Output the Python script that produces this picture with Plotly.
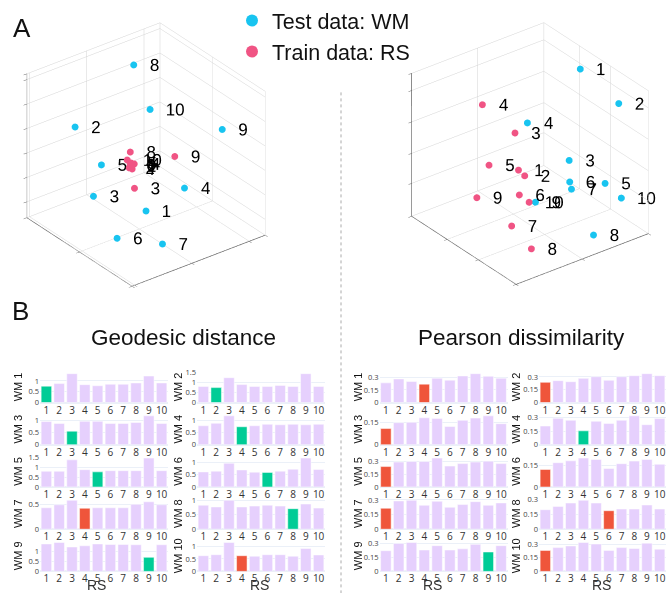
import plotly.graph_objects as go

W, H = 666, 598


def px(x):
    return x / W


def py(y):
    return 1 - y / H


# ---------------- data ----------------
point_labels = [str(i) for i in range(1, 11)]

# panel A, left embedding (normalized 3D coordinates)
left_test_x = [0.641, 0.819, 0.764, 0.322, 0.720, 0.860, 0.663, 0.314, 0.162, 0.376]
left_test_y = [0.678, 0.229, 0.334, 0.640, 0.354, 0.680, 0.862, 0.147, 0.796, 0.381]
left_test_z = [0.243, 0.676, 0.225, 0.271, 0.437, 0.132, 0.109, 0.889, 0.696, 0.713]
left_train_x = [0.652, 0.676, 0.629, 0.624, 0.631, 0.650, 0.670, 0.556, 0.338, 0.628]
left_train_y = [0.552, 0.563, 0.553, 0.544, 0.525, 0.539, 0.583, 0.421, 0.568, 0.483]
left_train_z = [0.500, 0.500, 0.337, 0.500, 0.500, 0.500, 0.500, 0.500, 0.462, 0.500]

# panel A, right embedding
right_test_x = [0.083, 0.110, 0.300, 0.468, 0.083, 0.295, 0.311, 0.345, 0.581, 0.092]
right_test_y = [0.453, 0.855, 0.621, 0.434, 0.690, 0.620, 0.657, 0.911, 0.654, 0.857]
right_test_z = [0.921, 0.881, 0.439, 0.672, 0.234, 0.286, 0.259, 0.071, 0.262, 0.214]
right_train_x = [0.586, 0.550, 0.580, 0.679, 0.710, 0.654, 0.798, 0.776, 0.777, 0.621]
right_train_y = [0.498, 0.512, 0.457, 0.270, 0.373, 0.592, 0.701, 0.862, 0.341, 0.644]
right_train_z = [0.414, 0.368, 0.652, 0.796, 0.433, 0.309, 0.195, 0.104, 0.214, 0.271]

# panel B
rs_cats = list(range(1, 11))
rs_ticktext = [str(i) for i in rs_cats]
wm_names = ["WM %d" % i for i in range(1, 11)]

geo = [
    [0.76, 0.88, 1.34, 0.83, 0.78, 0.85, 0.85, 0.91, 1.23, 0.91],
    [0.80, 0.74, 1.23, 0.89, 0.80, 0.80, 0.85, 0.80, 1.43, 0.80],
    [0.94, 0.86, 0.55, 0.95, 0.95, 0.86, 0.86, 0.90, 1.17, 0.86],
    [0.77, 0.87, 1.17, 0.73, 0.77, 0.83, 0.81, 0.83, 0.81, 0.83],
    [0.80, 0.80, 1.38, 0.88, 0.77, 0.83, 0.83, 0.83, 1.47, 0.83],
    [0.61, 0.64, 0.96, 0.69, 0.60, 0.59, 0.64, 0.72, 1.17, 0.71],
    [0.43, 0.49, 0.58, 0.42, 0.43, 0.43, 0.43, 0.50, 0.55, 0.49],
    [0.83, 0.77, 1.00, 0.77, 0.80, 0.83, 0.80, 0.71, 0.87, 0.73],
    [1.35, 1.42, 1.20, 1.26, 1.35, 1.32, 1.32, 1.31, 0.69, 1.31],
    [0.63, 0.67, 1.16, 0.63, 0.61, 0.67, 0.67, 0.61, 0.92, 0.66],
]
geo_pick = [1, 2, 3, 4, 5, 6, 4, 8, 9, 4]

pear = [
    [0.233, 0.280, 0.249, 0.218, 0.288, 0.265, 0.315, 0.342, 0.311, 0.288],
    [0.237, 0.257, 0.245, 0.284, 0.303, 0.261, 0.303, 0.315, 0.339, 0.315],
    [0.110, 0.150, 0.152, 0.183, 0.179, 0.124, 0.166, 0.181, 0.196, 0.143],
    [0.204, 0.289, 0.267, 0.152, 0.256, 0.233, 0.267, 0.315, 0.219, 0.285],
    [0.240, 0.293, 0.300, 0.300, 0.340, 0.246, 0.275, 0.293, 0.304, 0.275],
    [0.121, 0.168, 0.181, 0.200, 0.190, 0.128, 0.161, 0.179, 0.190, 0.157],
    [0.215, 0.290, 0.297, 0.246, 0.287, 0.225, 0.253, 0.283, 0.246, 0.270],
    [0.198, 0.232, 0.266, 0.294, 0.266, 0.188, 0.205, 0.205, 0.246, 0.205],
    [0.222, 0.300, 0.310, 0.229, 0.276, 0.229, 0.242, 0.290, 0.208, 0.276],
    [0.230, 0.261, 0.279, 0.317, 0.300, 0.230, 0.261, 0.251, 0.310, 0.244],
]
pear_pick = [4, 1, 1, 4, 1, 1, 1, 6, 9, 1]

# ---------------- style ----------------
CYAN = "rgb(24,196,240)"
PINK = "rgb(240,84,132)"
PURPLE = "#e6d0fd"
GREEN = "#00cc96"
RED = "#ef553b"
SANS = "Liberation Sans, Arial, sans-serif"

fig = go.Figure()


def add_embedding(scene, tx, ty, tz, rx, ry, rz, legend):
    fig.add_trace(go.Scatter3d(
        x=tx, y=ty, z=tz, mode="markers+text", text=point_labels,
        textposition="middle right", name="Test data: WM", scene=scene,
        marker=dict(size=4, color=CYAN, line=dict(width=0)),
        textfont=dict(size=17, color="black", family=SANS),
        showlegend=legend, hoverinfo="skip"))
    fig.add_trace(go.Scatter3d(
        x=rx, y=ry, z=rz, mode="markers+text", text=point_labels,
        textposition="middle right", name="Train data: RS", scene=scene,
        marker=dict(size=4, color=PINK, line=dict(width=0)),
        textfont=dict(size=17, color="black", family=SANS),
        showlegend=legend, hoverinfo="skip"))


add_embedding("scene", left_test_x, left_test_y, left_test_z,
              left_train_x, left_train_y, left_train_z, True)
add_embedding("scene2", right_test_x, right_test_y, right_test_z,
              right_train_x, right_train_y, right_train_z, False)


def ax3(tv):
    return dict(range=[0, 1], autorange=False, tickvals=tv, showticklabels=False,
                title=dict(text=""), showgrid=True, gridcolor="#d4d4d4", gridwidth=1,
                showbackground=False, zeroline=False, showline=True,
                linecolor="#666", linewidth=1.5, ticks="outside", ticklen=4,
                tickcolor="#666", showspikes=False)


K = 1.8
camera = dict(eye=dict(x=K * 0.527, y=K * 0.687, z=K * 0.5),
              up=dict(x=0, y=0, z=1), center=dict(x=0, y=0, z=0),
              projection=dict(type="orthographic"))

S = 1.13
scene_common = dict(aspectmode="manual", aspectratio=dict(x=S * 1.0, y=S * 1.03, z=S * 0.99),
                    camera=camera, bgcolor="white", dragmode=False)

layout = dict(
    width=W, height=H, margin=dict(l=0, r=0, t=0, b=0),
    template="plotly_white", paper_bgcolor="white", plot_bgcolor="white",
    font=dict(family=SANS, color="#222"),
    showlegend=True,
    legend=dict(x=px(232), y=1 + 6 / H, xanchor="left", yanchor="top",
                font=dict(size=21.5, family=SANS, color="#111"),
                bgcolor="rgba(0,0,0,0)", itemsizing="constant"),
    scene=dict(domain=dict(x=[px(12), px(280)], y=[py(303), 1]),
               xaxis=ax3([0, 0.12, 0.55, 0.98, 1]), yaxis=ax3([0, 0.5, 1]),
               zaxis=ax3([0, 0.11, 0.28, 0.45, 0.62, 0.79, 0.96, 1]), **scene_common),
    scene2=dict(domain=dict(x=[px(394), 1], y=[py(301), 1]),
                xaxis=ax3([0, 0.5, 1]), yaxis=ax3([0, 0.34, 0.64, 1]),
                zaxis=ax3([0, 0.23, 0.44, 0.66, 0.88, 1]), **scene_common),
    bargap=0.18,
)

col_x = [(40, 168), (197, 325), (379.5, 507.5), (539, 666)]
row_y = [(373, 404), (416, 447), (459, 490), (502, 533), (545, 576)]
wm_label_x = [18, 178, 358, 516]
rs_label_x = [96, 259, 433, 601]

annotations = [
    dict(text="A", x=px(11), y=py(22), xanchor="left", yanchor="middle",
         font=dict(size=26, family=SANS, color="#111")),
    dict(text="B", x=px(10), y=py(311), xanchor="left", yanchor="middle",
         font=dict(size=26, family=SANS, color="#111")),
    dict(text="Geodesic distance", x=px(183), y=py(338), xanchor="center", yanchor="middle",
         font=dict(size=22.5, family=SANS, color="#111")),
    dict(text="Pearson dissimilarity", x=px(521), y=py(338), xanchor="center", yanchor="middle",
         font=dict(size=22.5, family=SANS, color="#111")),
]

n = 0
for g, (vals, picks, dt) in enumerate([(geo, geo_pick, 0.5), (pear, pear_pick, 0.15)]):
    for i in range(10):
        n += 1
        row, col = i // 2, i % 2
        cx = col_x[g * 2 + col]
        ry = row_y[row]
        colors = [PURPLE] * 10
        colors[picks[i] - 1] = GREEN if picks[i] == i + 1 else RED
        sfx = "" if n == 1 else str(n)
        fig.add_trace(go.Bar(x=rs_cats, y=vals[i], marker=dict(color=colors),
                             xaxis="x" + sfx, yaxis="y" + sfx, showlegend=False,
                             hoverinfo="skip"))
        layout["xaxis" + sfx] = dict(domain=[px(cx[0]), px(cx[1])], anchor="y" + sfx,
                                     range=[0.5, 10.5], tickvals=rs_cats, ticktext=rs_ticktext,
                                     showgrid=False, zeroline=False, ticks="",
                                     tickfont=dict(size=10, color="#333", family="Open Sans, Arial"))
        layout["yaxis" + sfx] = dict(domain=[py(ry[1]), py(ry[0])], anchor="x" + sfx,
                                     dtick=dt, tick0=0, showgrid=True, gridcolor="#EBF0F8",
                                     zeroline=True, zerolinecolor="#EBF0F8", ticks="",
                                     tickfont=dict(size=7.5, color="#444", family="Open Sans, Arial"))
        annotations.append(dict(text=wm_names[i], x=px(wm_label_x[g * 2 + col]),
                                y=py((ry[0] + ry[1]) / 2), textangle=-90,
                                xanchor="center", yanchor="middle",
                                font=dict(size=11, family=SANS, color="#111")))

for xx in rs_label_x:
    annotations.append(dict(text="RS", x=px(xx), y=py(590), xanchor="center", yanchor="middle",
                            font=dict(size=14, family=SANS, color="#333")))

for a in annotations:
    a.update(xref="paper", yref="paper", showarrow=False)

layout["annotations"] = annotations
layout["shapes"] = [dict(type="line", xref="paper", yref="paper", x0=px(341), x1=px(341),
                         y0=py(88), y1=0, line=dict(color="#aaa", width=1, dash="dot"))]

fig.update_layout(**layout)
fig.write_html("out.html")
